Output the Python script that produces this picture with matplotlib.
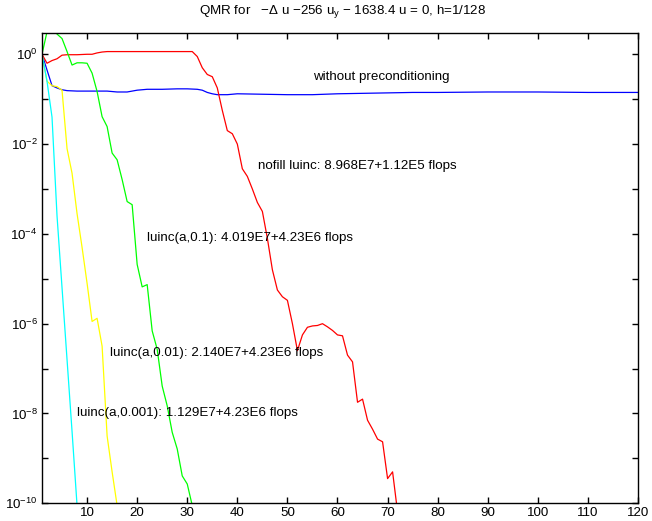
import numpy as np
import matplotlib
matplotlib.use("Agg")
import matplotlib.pyplot as plt

plt.rcParams['font.family'] = ['Liberation Sans', 'DejaVu Sans']
plt.rcParams['mathtext.fontset'] = 'custom'
plt.rcParams['mathtext.rm'] = 'Liberation Sans'
plt.rcParams['mathtext.it'] = 'Liberation Sans:italic'
plt.rcParams['mathtext.bf'] = 'Liberation Sans:bold'
plt.rcParams['mathtext.sf'] = 'Liberation Sans'

# ---- data (log10 of residual) ----
blue_it = [1, 2, 3, 4, 5, 6, 8, 10, 12, 14, 16, 18, 20, 22, 25, 28, 30, 32, 33, 34, 35, 36, 38, 40,
           45, 50, 55, 60, 65, 70, 75, 80, 90, 100, 110, 120]
blue_log = [0.0, -0.35, -0.7, -0.75, -0.79, -0.81, -0.82, -0.82, -0.82, -0.82, -0.84, -0.84, -0.8, -0.78,
            -0.78, -0.77, -0.77, -0.78, -0.8, -0.85, -0.88, -0.9, -0.9, -0.88,
            -0.89, -0.9, -0.9, -0.88, -0.87, -0.86, -0.85, -0.85, -0.84, -0.84, -0.85, -0.85]

red_it = [1, 2, 3, 4, 5, 6, 8, 10, 11, 12, 13, 14, 20, 25, 31, 32, 33, 34, 35, 36, 37, 38, 39, 40,
          41, 42, 43, 44, 45, 46, 47, 48, 49, 50, 51, 52, 53, 54, 55, 56, 57, 58, 59, 60, 61, 62, 63,
          64, 65, 66, 67, 68, 69, 70, 71, 72]
red_log = [0.0, -0.2, -0.14, -0.1, -0.02, -0.01, -0.01, 0.0, 0.0, 0.03, 0.05, 0.06, 0.06, 0.06, 0.06,
           -0.05, -0.3, -0.45, -0.5, -0.75, -1.25, -1.7, -1.77, -2.0,
           -2.55, -2.72, -3.0, -3.3, -3.5, -4.1, -4.8, -5.25, -5.4, -5.48, -6.0, -6.6, -6.25, -6.08,
           -6.05, -6.04, -6.0, -6.07, -6.15, -6.25, -6.27, -6.7, -6.85,
           -7.75, -7.68, -8.15, -8.35, -8.57, -8.63, -9.45, -9.3, -10.2]

green_it = list(range(1, 32))
green_log = [0.0, 0.5, 0.6, 0.45, 0.35, 0.06, -0.24, -0.19, -0.19, -0.2, -0.42, -0.83, -1.39, -1.61,
             -2.2, -2.35, -2.79, -3.28, -3.35, -4.68, -5.18, -5.13, -6.16, -6.57, -7.39, -7.83,
             -8.42, -8.79, -9.39, -9.57, -10.05]

yellow_it = list(range(1, 17))
yellow_log = [0.0, -0.6, -0.7, -0.72, -0.8, -2.1, -2.65, -3.55, -4.3, -5.1, -5.95, -5.88, -6.5,
              -8.5, -9.3, -10.05]

cyan_it = list(range(1, 9))
cyan_log = [0.0, -0.6, -1.4, -3.6, -5.2, -6.8, -8.4, -10.05]

title = r"QMR for   $-\Delta$ u $-$256 u$_{\mathrm{y}}$ $-$ 1638.4 u = 0, h=1/128"
labels = [
    ("without preconditioning", 55.2, -0.5),
    ("nofill luinc: 8.968E7+1.12E5 flops", 44.1, -2.48),
    ("luinc(a,0.1): 4.019E7+4.23E6 flops", 21.9, -4.1),
    ("luinc(a,0.01): 2.140E7+4.23E6 flops", 14.6, -6.66),
    ("luinc(a,0.001): 1.129E7+4.23E6 flops", 7.9, -8.0),
]

FS = 9.6

fig = plt.figure(figsize=(6.52, 5.21), dpi=100)
ax = fig.add_axes([42 / 652, 1 - 503.3 / 521, (638 - 42) / 652, (503.3 - 33.3) / 521])

lw = 0.9
ax.plot(blue_it, 10.0 ** np.array(blue_log), color='#0000ff', lw=lw)
ax.plot(red_it, 10.0 ** np.array(red_log), color='#ff0000', lw=lw)
ax.plot(green_it, 10.0 ** np.array(green_log), color='#00ff00', lw=lw)
ax.plot(yellow_it, 10.0 ** np.array(yellow_log), color='#ffff00', lw=lw)
ax.plot(cyan_it, 10.0 ** np.array(cyan_log), color='#00ffff', lw=lw)

ax.set_yscale('log')
ax.set_xlim(1, 120)
ax.set_ylim(1e-10, 10 ** 0.467)
ax.set_xticks(range(10, 121, 10))
ax.set_yticks([10.0 ** k for k in range(-10, 1)])
ax.set_yticklabels([r"$10^{%d}$" % k if k % 2 == 0 else "" for k in range(-10, 1)])
ax.yaxis.set_minor_locator(matplotlib.ticker.NullLocator())
ax.tick_params(direction='in', top=True, right=True, length=4.5, width=1.0,
               labelsize=FS, pad=3)
for s in ax.spines.values():
    s.set_linewidth(1.0)

for txt, x, y in labels:
    ax.text(x, 10.0 ** y, txt, fontsize=FS, va='center', ha='left')

fig.text(343 / 652, 1 - 12 / 521, title, fontsize=FS, ha='center', va='center')

fig.savefig("out.png", dpi=100)
